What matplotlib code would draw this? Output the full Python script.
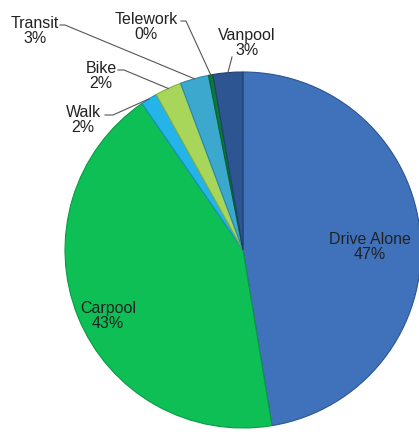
import numpy as np
import matplotlib.pyplot as plt

plt.rcParams['font.family'] = ['Liberation Sans', 'DejaVu Sans']

# commute mode share (percent), clockwise from 12 o'clock
modes = ['Drive Alone', 'Carpool', 'Walk', 'Bike', 'Transit', 'Telework', 'Vanpool']
shares = [47.4, 43.0, 1.5, 2.4, 2.6, 0.4, 2.7]
colors = ['#3f72bb', '#0dbf55', '#25b4ea', '#a8d65a', '#3ca8cd', '#0a7a36', '#2d5592']
edges = ['#2a5590', '#0a9a45', '#1a90c0', '#86b040', '#2a88aa', '#05602a', '#1f3f70']

fig = plt.figure(figsize=(4.19, 4.32), dpi=100)
ax = fig.add_axes([0, 0, 1, 1])

cx, cy, r = 243, 182, 178
wedges, _ = ax.pie(shares, colors=colors, startangle=90, counterclock=False,
                   center=(cx, cy), radius=r, frame=True,
                   wedgeprops=dict(linewidth=0.8))
for w, ec in zip(wedges, edges):
    w.set_edgecolor(ec)
ax.set_xlim(0, 419)
ax.set_ylim(0, 432)
ax.set_aspect('equal')
ax.axis('off')

labels = ['%s\n%.0f%%' % (m, v) for m, v in zip(modes, shares)]
fs = 11.5
tc = '#222222'

# big slices: label inside
ax.text(370, 432 - 247, labels[0], ha='center', va='center', fontsize=fs, color=tc, linespacing=1.05)
ax.text(108, 432 - 316, labels[1], ha='center', va='center', fontsize=fs, color=tc, linespacing=1.05)

# small slices: label outside with leader line
# text centre x, y ; line start x, y ; short horizontal run
outside = {
    2: (83, 432 - 120, 105, 432 - 115, 8),
    3: (101, 432 - 76, 118, 432 - 70, 6),
    4: (35, 432 - 31, 60, 432 - 25, 5),
    5: (146, 432 - 27, 181, 432 - 21, 5),
    6: (247, 432 - 43, 232, 432 - 57, 0),
}
for i, (tx, ty, lx, ly, run) in outside.items():
    w = wedges[i]
    mid = np.deg2rad((w.theta1 + w.theta2) / 2)
    px = cx + r * np.cos(mid)
    py = cy + r * np.sin(mid)
    ax.text(tx, ty, labels[i], ha='center', va='center', fontsize=fs, color=tc, linespacing=1.05)
    ax.plot([lx, lx + run, px], [ly, ly, py], color='#555555', linewidth=0.8)

fig.savefig('out.png', dpi=100)
